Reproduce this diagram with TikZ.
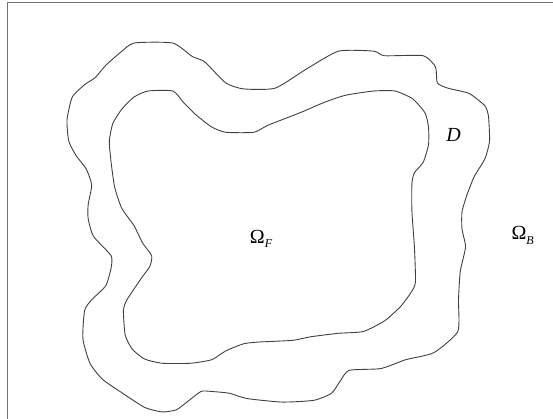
\documentclass[tikz,border=0pt]{standalone}
\usepackage{fontspec}
\setmainfont{Liberation Serif}
\begin{document}
\begin{tikzpicture}[x=0.35273pt,y=-0.35273pt,
  curve/.style={draw=black!75, line width=0.9pt, smooth cycle, tension=0.35},
  frame/.style={draw=black!55, line width=1.2pt},
  lbl/.style={font=\fontsize{20}{24}\selectfont, inner sep=0pt, anchor=base west}]
\newcommand{\subtxt}[1]{\raisebox{-0.22em}{\fontsize{12}{12}\selectfont\itshape #1}}
\useasboundingbox (0,0) rectangle (1568,1188);
\draw[frame] (22,1188) -- (22,8) -- (1568,8);
% outer boundary
\draw[curve] plot coordinates {(380,122) (490,122) (545,160) (580,175) (640,235) (690,252) (780,250) (870,195) (960,145) (1060,145) (1090,158) (1200,158) (1235,190) (1240,235) (1270,250) (1330,265) (1375,300) (1385,330) (1388,400) (1375,450) (1345,500) (1325,550) (1310,600) (1310,650) (1320,700) (1305,770) (1300,850) (1298,940) (1230,1000) (1150,1020) (1080,1045) (990,1050) (965,1080) (940,1115) (890,1135) (800,1140) (700,1130) (650,1115) (600,1110) (570,1110) (530,1140) (500,1162) (460,1168) (410,1155) (340,1110) (290,1075) (255,1030) (235,960) (240,880) (260,850) (300,810) (315,760) (315,725) (265,670) (250,620) (250,580) (260,525) (245,480) (215,440) (195,400) (190,340) (205,275) (240,240) (270,220) (300,185) (340,150)};
% inner boundary
\draw[curve] plot coordinates {(420,258) (490,258) (520,290) (555,325) (600,360) (640,375) (720,375) (760,355) (850,320) (920,290) (980,270) (1060,258) (1120,258) (1170,280) (1205,320) (1215,360) (1215,410) (1200,460) (1175,490) (1168,520) (1168,600) (1175,700) (1178,800) (1165,830) (1135,870) (1090,910) (1030,940) (960,945) (880,955) (830,965) (730,970) (690,975) (640,995) (600,1020) (540,1030) (460,1030) (410,1018) (375,990) (355,950) (350,880) (360,850) (400,790) (425,755) (430,725) (405,690) (380,640) (345,590) (325,530) (315,460) (310,400) (320,350) (345,310) (380,275)};
\node[lbl] (omegaF) at (708,690) {Ω\subtxt{F}};
\node[lbl] (labD) at (1265,402) {\itshape D};
\node[lbl] (omegaB) at (1450,680) {Ω\subtxt{B}};
\end{tikzpicture}
\end{document}
